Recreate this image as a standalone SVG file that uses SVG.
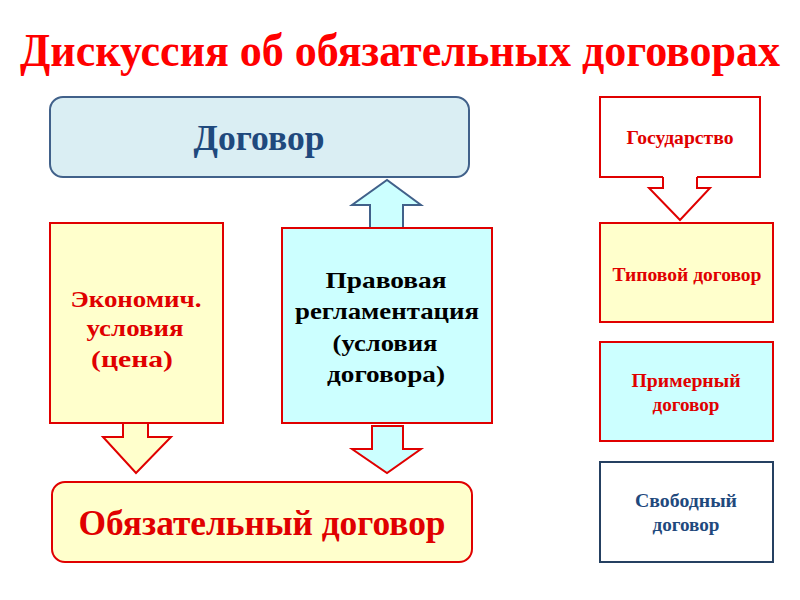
<svg xmlns="http://www.w3.org/2000/svg" width="800" height="600" viewBox="0 0 800 600">
<style>
text{font-family:"Liberation Serif","Times New Roman",serif;font-weight:bold;text-anchor:middle}
.red{stroke:#E00000;stroke-width:2}
.blue{stroke:#41618A;stroke-width:2}
.yel{fill:#FFFFCC}
.cyan{fill:#CCFFFF}
.tr{fill:#E00000}
.tb{fill:#1F497D}
.m{font-size:24px}
.s{font-size:19px}
</style>
<rect width="800" height="600" fill="#FFFFFF"/>
<text id="title" transform="translate(400,66) scale(1,1.15)" x="0" y="0" font-size="40" fill="#FF0000" textLength="760" lengthAdjust="spacingAndGlyphs">Дискуссия об обязательных договорах</text>

<g id="connectors">
<path class="blue cyan" d="M370,228 V205 H352 L387,180 L421,205 H403 V228"/>
<path class="red yel" d="M123,423 V437 H103 L136,473 L171,437 H148 V423"/>
<path class="red cyan" d="M372,426 V449 H352 L387,473 L421,449 H403 V426 Z"/>
<path class="red" fill="#FFFFFF" d="M663,177 V188 H649 L680,220 L710,188 H697 V177"/>
</g>

<g id="dogovor">
<rect x="50" y="97" width="419" height="80" rx="13" fill="#DAEEF3" class="blue"/>
<text x="259" y="150" font-size="36" class="tb" textLength="131" lengthAdjust="spacingAndGlyphs">Договор</text>
</g>

<g id="ekonom">
<rect x="50" y="223" width="173" height="200" class="red yel"/>
<text class="tr m" x="136" y="307" textLength="131" lengthAdjust="spacingAndGlyphs">Экономич.</text>
<text class="tr m" x="135" y="336" textLength="97" lengthAdjust="spacingAndGlyphs">условия</text>
<text class="tr m" x="132" y="367" textLength="82" lengthAdjust="spacingAndGlyphs">(цена)</text>
</g>

<g id="pravovaya">
<rect x="282" y="228" width="210" height="195" class="red cyan"/>
<text class="m" fill="#000000" x="386" y="288" textLength="121" lengthAdjust="spacingAndGlyphs">Правовая</text>
<text class="m" fill="#000000" x="387" y="319" textLength="184" lengthAdjust="spacingAndGlyphs">регламентация</text>
<text class="m" fill="#000000" x="385" y="351" textLength="105" lengthAdjust="spacingAndGlyphs">(условия</text>
<text class="m" fill="#000000" x="386" y="382" textLength="118" lengthAdjust="spacingAndGlyphs">договора)</text>
</g>

<g id="obyaz">
<rect x="52" y="482" width="420" height="80" rx="13" class="red yel"/>
<text x="262" y="535" font-size="35" class="tr" textLength="367" lengthAdjust="spacingAndGlyphs">Обязательный договор</text>
</g>

<g id="gosudarstvo">
<path class="red" fill="#FFFFFF" d="M663,177 H600 V97 H760 V177 H697"/>
<text x="680" y="144" class="tr s" textLength="107" lengthAdjust="spacingAndGlyphs">Государство</text>
</g>

<g id="tipovoy">
<rect x="600" y="223" width="173" height="99" class="red yel"/>
<text x="687" y="281" class="tr s" textLength="149" lengthAdjust="spacingAndGlyphs">Типовой договор</text>
</g>

<g id="primerny">
<rect x="600" y="342" width="173" height="99" class="red cyan"/>
<text x="686" y="387" class="tr s" textLength="109" lengthAdjust="spacingAndGlyphs">Примерный</text>
<text x="686" y="411" class="tr s" textLength="67" lengthAdjust="spacingAndGlyphs">договор</text>
</g>

<g id="svobodny">
<rect x="600" y="462" width="173" height="100" fill="#FFFFFF" stroke="#254061" stroke-width="2"/>
<text x="686" y="507" class="tb s" textLength="102" lengthAdjust="spacingAndGlyphs">Свободный</text>
<text x="686" y="531" class="tb s" textLength="67" lengthAdjust="spacingAndGlyphs">договор</text>
</g>
</svg>
